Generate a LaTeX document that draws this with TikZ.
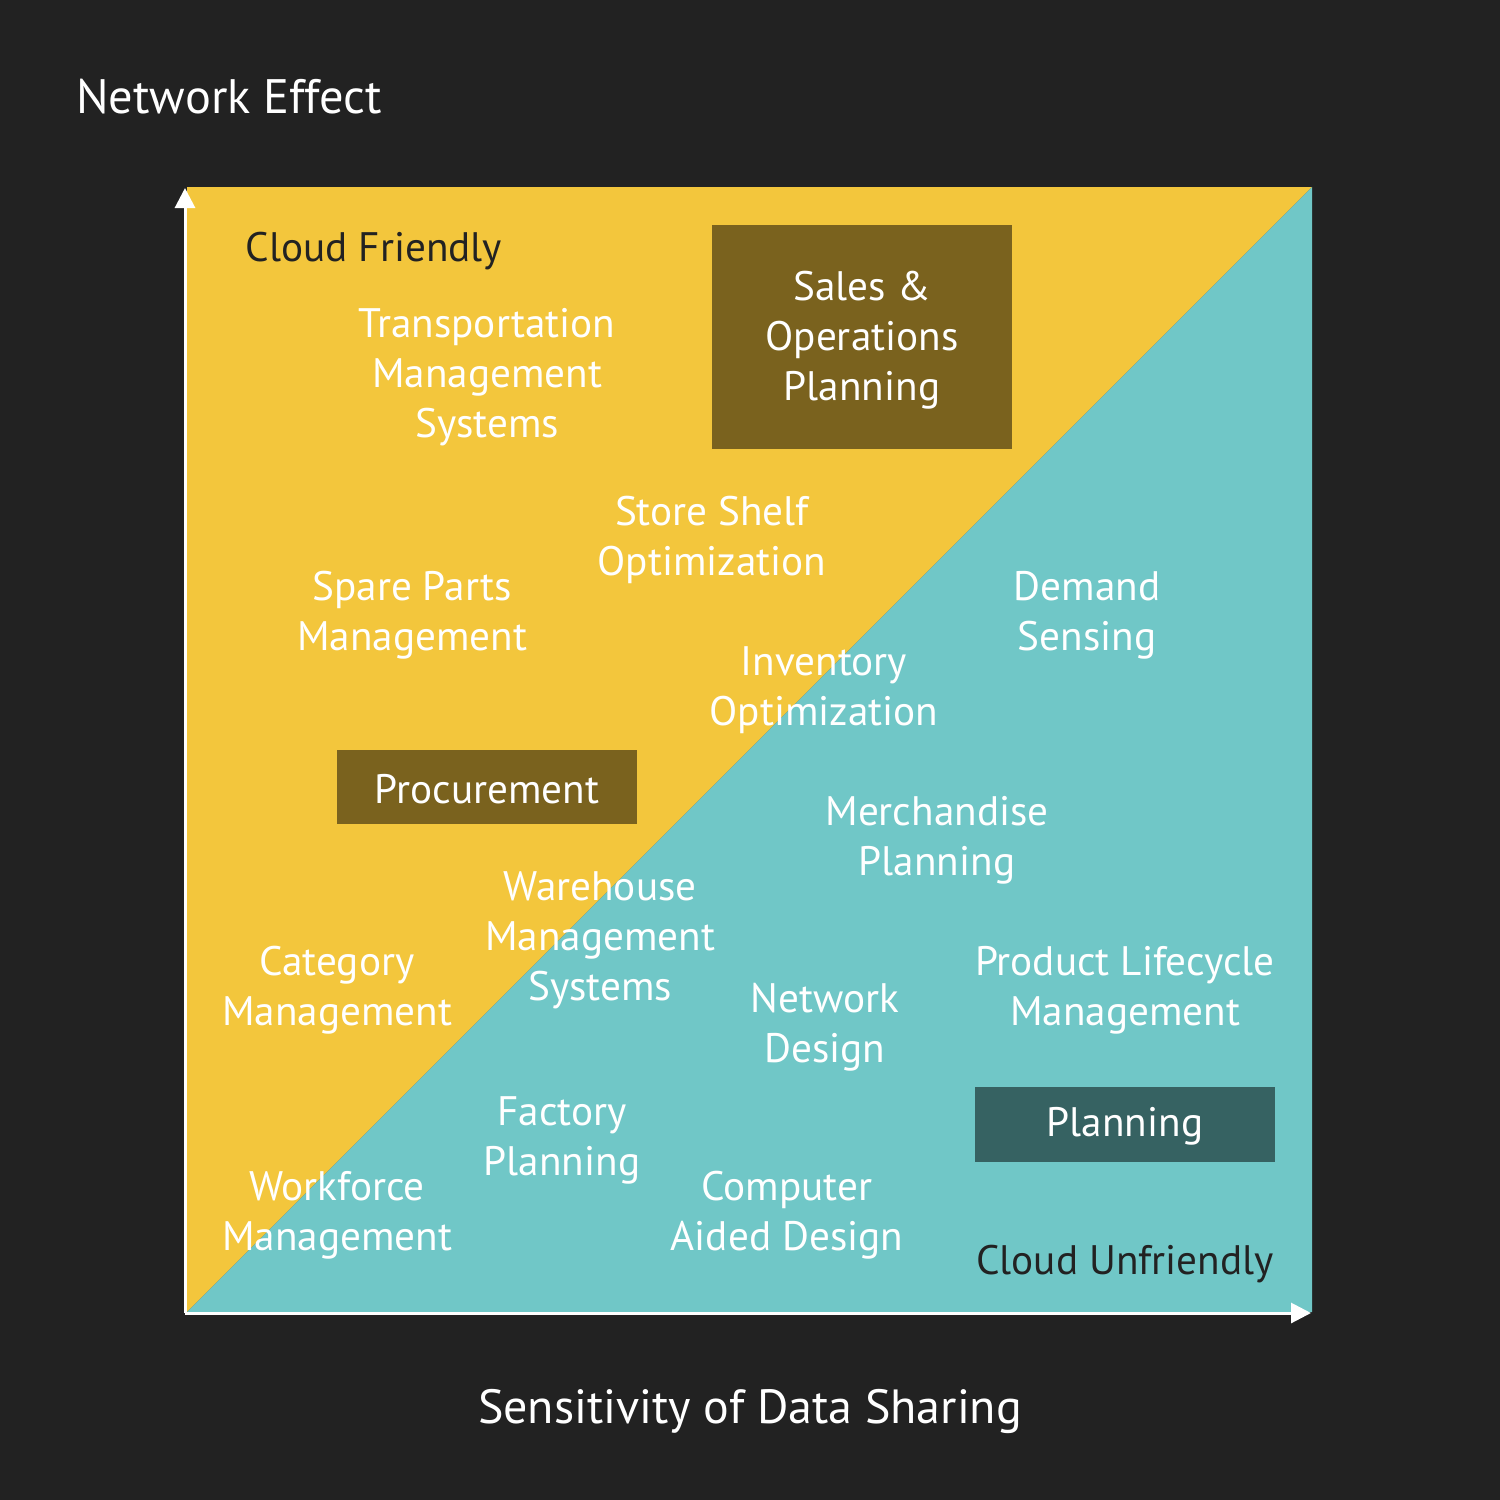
\documentclass[tikz,border=0pt]{standalone}
\usepackage{fontspec}
\setmainfont{PT Sans}
\usetikzlibrary{arrows.meta}
\definecolor{bgc}{HTML}{222222}
\definecolor{yel}{HTML}{F3C63C}
\definecolor{tea}{HTML}{70C7C7}
\definecolor{brn}{HTML}{7A621E}
\definecolor{dtea}{HTML}{366262}
\tikzset{
  lbl/.style={align=center, inner sep=0pt, text=white, font=\fontsize{20.6}{25}\selectfont},
  dlbl/.style={lbl, text=bgc},
  boxed/.style={inner sep=0pt, text=white, font=\fontsize{20.6}{25}\selectfont, align=center},
  axis/.style={draw=white, line width=1.5pt, -{Triangle[length=10pt,width=10pt]}},
}
\begin{document}
\begin{tikzpicture}[x=0.5pt,y=-0.5pt]
\fill[bgc] (0,0) rectangle (1500,1500);
\useasboundingbox (0,0) rectangle (1500,1500);
\fill[yel] (187,187) -- (1312,187) -- (187,1312) -- cycle;
\fill[tea] (1312,187) -- (1312,1312) -- (187,1312) -- cycle;
\coordinate (o) at (185,1313);
\coordinate (ytip) at (185,188);
\coordinate (xtip) at (1311,1313);
\draw[axis] (o) -- (ytip);
\draw[axis] (o) -- (xtip);
% boxes
\fill[brn] (712,225) rectangle (1012,449);
\fill[brn] (337,750) rectangle (637,824);
\fill[dtea] (975,1087) rectangle (1275,1162);
\node[boxed] (sop) at (862,340) {Sales \&\\Operations\\Planning};
\node[boxed] (proc) at (487,789) {Procurement};
\node[boxed] (plan) at (1125,1126) {Planning};
% titles
\node[anchor=west, inner sep=0pt, text=white, font=\fontsize{24.2}{30}\selectfont] (ne) at (76,97) {Network Effect};
\node[inner sep=0pt, text=white, font=\fontsize{24}{30}\selectfont] (sds) at (750,1411) {Sensitivity of Data Sharing};
\node[dlbl] (cf) at (374,251) {Cloud Friendly};
\node[dlbl] (cu) at (1125,1264) {Cloud Unfriendly};
% labels
\node[lbl] (tms) at (487,377) {Transportation\\Management\\Systems};
\node[lbl] (sso) at (712,540) {Store Shelf\\Optimization};
\node[lbl] (spm) at (412,615) {Spare Parts\\Management};
\node[lbl] (io) at (824,690) {Inventory\\Optimization};
\node[lbl] (ds) at (1087,615) {Demand\\Sensing};
\node[lbl] (mp) at (937,840) {Merchandise\\Planning};
\node[lbl] (wms) at (600,940) {Warehouse\\Management\\Systems};
\node[lbl] (cm) at (337,990) {Category\\Management};
\node[lbl] (nd) at (825,1027) {Network\\Design};
\node[lbl] (plm) at (1125,990) {Product Lifecycle\\Management};
\node[lbl] (fp) at (562,1140) {Factory\\Planning};
\node[lbl] (wm) at (337,1215) {Workforce\\Management};
\node[lbl] (cad) at (787,1215) {Computer\\Aided Design};
\end{tikzpicture}
\end{document}
